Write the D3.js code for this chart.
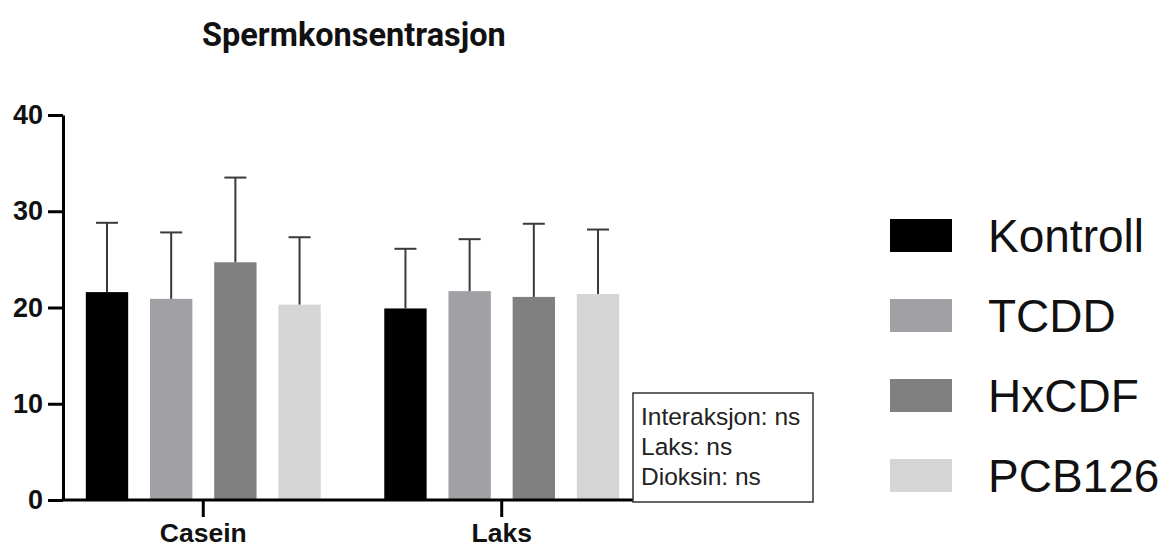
<!DOCTYPE html>
<html><head><meta charset="utf-8">
<script src="https://cdn.jsdelivr.net/npm/d3@7"></script>
<style>body{margin:0;background:#fff}svg{display:block}</style>
</head><body>
<svg id="c" width="1167" height="550"></svg>
<script>
const groups = ["Casein", "Laks"];
const series = ["Kontroll", "TCDD", "HxCDF", "PCB126"];
const colors = ["#000000", "#a1a1a5", "#808080", "#d5d5d5"];
const meansCasein = [21.6, 20.9, 24.7, 20.3];
const sdCasein = [7.2, 6.9, 8.8, 7.0];
const meansLaks = [19.9, 21.7, 21.1, 21.4];
const sdLaks = [6.2, 5.4, 7.6, 6.7];
const yTicks = [0, 10, 20, 30, 40];
const title = "Spermkonsentrasjon";
const statLines = ["Interaksjon: ns", "Laks: ns", "Dioksin: ns"];

const data = [];
groups.forEach((g, gi) => {
  const m = gi === 0 ? meansCasein : meansLaks;
  const s = gi === 0 ? sdCasein : sdLaks;
  series.forEach((k, si) => data.push({group: g, key: k, mean: m[si], sd: s[si], color: colors[si]}));
});

const svg = d3.select("#c");
const axisX0 = 63, axisX1 = 642, y0 = 500, yTop = 115;

const y = d3.scaleLinear().domain([0, 40]).range([y0, yTop]);
const x0 = d3.scaleBand().domain(groups).range([axisX0, axisX1]).paddingInner(0.2).paddingOuter(0.07);
const x1 = d3.scaleBand().domain(series).range([0, x0.bandwidth()]).paddingInner(0.34).paddingOuter(0.03);
const color = d3.scaleOrdinal().domain(series).range(colors);

// title
svg.append("text").attr("x", 202).attr("y", 46)
  .attr("font-family", "Roboto, Arial, sans-serif").attr("font-weight", "bold")
  .attr("font-size", 32.5).attr("fill", "#111").text(title);

// bars
svg.append("g").selectAll("rect").data(data).join("rect")
  .attr("x", d => x0(d.group) + x1(d.key))
  .attr("y", d => y(d.mean))
  .attr("width", x1.bandwidth())
  .attr("height", d => y(0) - y(d.mean))
  .attr("fill", d => d.color);

// error bars
const eb = svg.append("g").attr("stroke", "#3a3a3a").attr("stroke-width", 2);
data.forEach(d => {
  const cx = x0(d.group) + x1(d.key) + x1.bandwidth() / 2;
  eb.append("line").attr("x1", cx).attr("x2", cx).attr("y1", y(d.mean)).attr("y2", y(d.mean + d.sd));
  eb.append("line").attr("x1", cx - 11).attr("x2", cx + 11).attr("y1", y(d.mean + d.sd)).attr("y2", y(d.mean + d.sd));
});

// y axis
const yAxis = svg.append("g").attr("transform", `translate(${axisX0},0)`)
  .call(d3.axisLeft(y).tickValues(yTicks).tickSize(15).tickPadding(5).tickSizeOuter(0));
yAxis.select(".domain").attr("stroke", "#000").attr("stroke-width", 3);
yAxis.selectAll(".tick line").attr("stroke", "#000").attr("stroke-width", 3);
yAxis.selectAll(".tick text").attr("font-family", "Arial, Liberation Sans, sans-serif")
  .attr("font-weight", "bold").attr("font-size", 27).attr("fill", "#111");

// x axis
const xAxis = svg.append("g").attr("transform", `translate(0,${y0})`)
  .call(d3.axisBottom(x0).tickSize(17).tickPadding(6).tickSizeOuter(0));
xAxis.select(".domain").attr("stroke", "#000").attr("stroke-width", 3).attr("d", `M${axisX0 - 1.5},0H${axisX1}`);
xAxis.selectAll(".tick line").attr("stroke", "#000").attr("stroke-width", 3);
xAxis.selectAll(".tick text").attr("font-family", "Arial, Liberation Sans, sans-serif")
  .attr("font-weight", "bold").attr("font-size", 26.5).attr("fill", "#111");

// stats box
const box = svg.append("g");
box.append("rect").attr("x", 633).attr("y", 393).attr("width", 180).attr("height", 109)
  .attr("fill", "#fff").attr("stroke", "#333").attr("stroke-width", 1.5);
box.selectAll("text").data(statLines).join("text")
  .attr("x", 641).attr("y", (d, i) => 425 + i * 30)
  .attr("font-family", "Arial, Liberation Sans, sans-serif").attr("font-size", 24.5).attr("fill", "#222")
  .text(d => d);

// legend
const lg = svg.append("g").selectAll("g").data(series).join("g")
  .attr("transform", (d, i) => `translate(890,${219 + i * 80})`);
lg.append("rect").attr("width", 62).attr("height", 33).attr("fill", d => color(d));
lg.append("text").attr("x", 98).attr("y", 33)
  .attr("font-family", "Arial, Liberation Sans, sans-serif").attr("font-size", 46).attr("fill", "#111")
  .text(d => d);
</script>
</body></html>
